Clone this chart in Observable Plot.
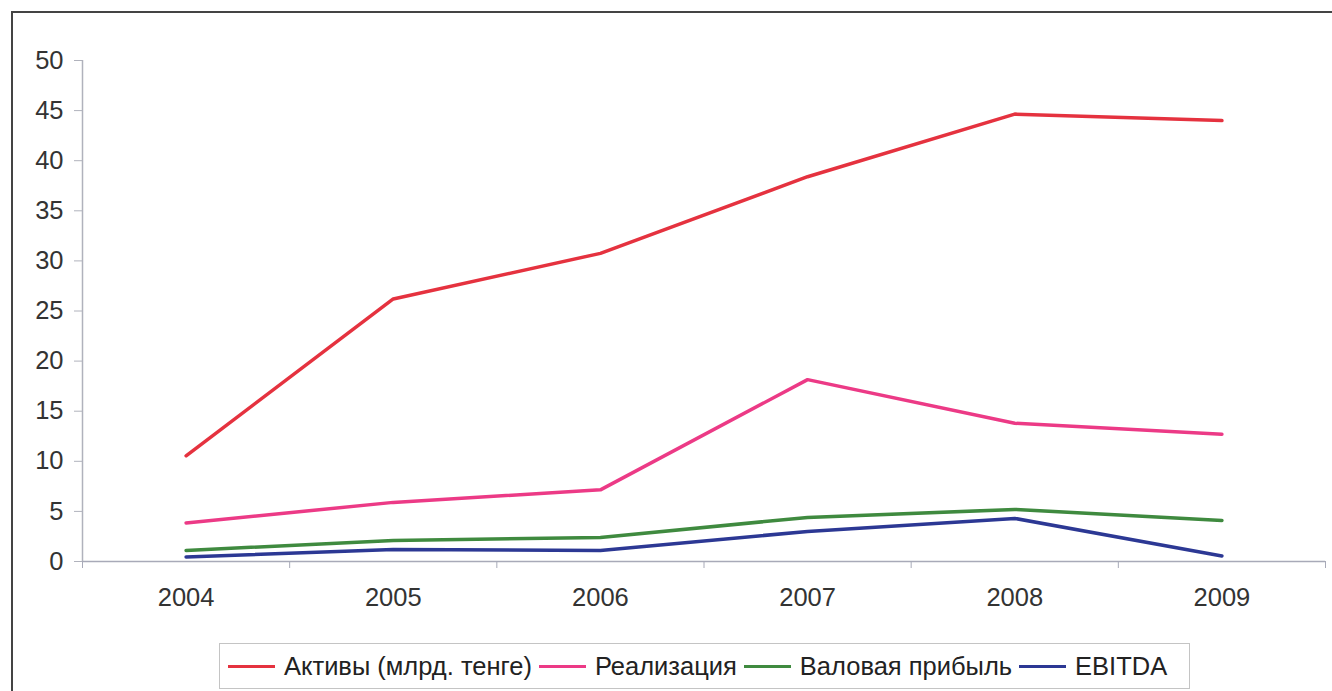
<!DOCTYPE html>
<html>
<head>
<meta charset="utf-8">
<script src="https://cdn.jsdelivr.net/npm/d3@7"></script>
<script src="https://cdn.jsdelivr.net/npm/@observablehq/plot@0.6"></script>
<style>
  html, body { margin: 0; padding: 0; background: #fff; }
  body { width: 1332px; height: 691px; position: relative; overflow: hidden; font-family: "Liberation Sans", Arial, sans-serif; }
  #frame { position: absolute; left: 11px; top: 11px; width: 1340px; height: 700px; border-left: 2px solid #444; border-top: 2px solid #444; pointer-events: none; }
  #chart { position: absolute; left: 0; top: 0; }
  #legend { position: absolute; left: 219px; top: 643px; width: 971px; height: 46px; border: 1px solid #c4c4c4; box-sizing: border-box;
            display: flex; align-items: center; padding-left: 8px; font-size: 25.5px; color: #222; }
  .item { display: flex; align-items: center; margin-right: 7px; white-space: nowrap; }
  .sw { width: 47px; height: 3px; margin-right: 9px; }
</style>
</head>
<body>
<div id="chart"></div>
<div id="frame"></div>
<div id="legend"></div>
<script>
const years = ["2004", "2005", "2006", "2007", "2008", "2009"];
const seriesNames = ["Активы (млрд. тенге)", "Реализация", "Валовая прибыль", "EBITDA"];
const seriesColors = ["#e5323f", "#ec3a86", "#3f8a3f", "#2c3894"];
const aktivy = [10.55, 26.2, 30.75, 38.4, 44.65, 44.0];
const realizaciya = [3.85, 5.9, 7.15, 18.15, 13.8, 12.7];
const valovaya = [1.1, 2.1, 2.4, 4.4, 5.2, 4.1];
const ebitda = [0.45, 1.2, 1.1, 3.0, 4.3, 0.55];
const yTicks = [0, 5, 10, 15, 20, 25, 30, 35, 40, 45, 50];

const allSeries = [aktivy, realizaciya, valovaya, ebitda];
const rows = [];
allSeries.forEach((vals, s) => vals.forEach((v, i) => rows.push({series: seriesNames[s], i, value: v})));
const idx = years.map((_, i) => i);
const bounds = [-0.5, ...idx.map(i => i + 0.5)];

const plot = Plot.plot({
  width: 1332,
  height: 640,
  marginLeft: 82,
  marginRight: 7,
  marginTop: 60,
  marginBottom: 79,
  style: {fontFamily: "'Liberation Sans', Arial, sans-serif", background: "transparent"},
  x: {type: "linear", domain: [-0.5, years.length - 0.5]},
  y: {domain: [0, 50]},
  color: {domain: seriesNames, range: seriesColors},
  marks: [
    Plot.ruleY([0], {stroke: "#a8aab8", strokeWidth: 1.5}),
    Plot.ruleX([-0.5], {stroke: "#b0b2bc", strokeWidth: 1.5}),
    Plot.axisY({ticks: yTicks, tickSize: 8, tickPadding: 11, fontSize: 25.5, fill: "#333", stroke: "#b0b2bc", label: null}),
    Plot.axisX({ticks: bounds, tickSize: 7, tickFormat: () => "", stroke: "#a8aab8", label: null}),
    Plot.axisX({ticks: idx, tickSize: 0, tickPadding: 26, tickFormat: i => years[i], fontSize: 25.5, fill: "#333", label: null}),
    Plot.line(rows, {x: "i", y: "value", z: "series", stroke: "series", strokeWidth: 3.5, strokeLinejoin: "round"})
  ]
});
document.getElementById("chart").appendChild(plot);

const legend = document.getElementById("legend");
seriesNames.forEach((name, s) => {
  const item = document.createElement("div");
  item.className = "item";
  const sw = document.createElement("span");
  sw.className = "sw";
  sw.style.background = seriesColors[s];
  const t = document.createElement("span");
  t.textContent = name;
  item.appendChild(sw);
  item.appendChild(t);
  legend.appendChild(item);
});
</script>
</body>
</html>
